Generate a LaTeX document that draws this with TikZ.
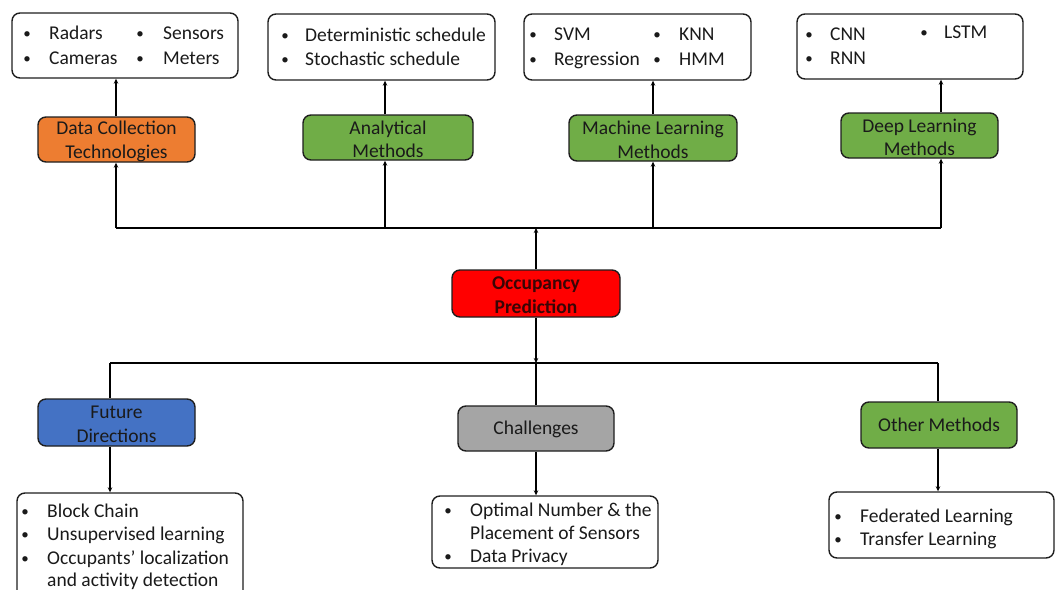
\documentclass[tikz,border=0pt]{standalone}
\usepackage{fontspec}
\setmainfont{Carlito}
\usetikzlibrary{arrows.meta}
\definecolor{orangeC}{HTML}{ED7D31}
\definecolor{greenC}{HTML}{70AD47}
\definecolor{blueC}{HTML}{4472C4}
\definecolor{grayC}{HTML}{A5A5A5}
\definecolor{redC}{HTML}{FF0000}
\definecolor{edgeC}{HTML}{1E1E1E}
\definecolor{txtC}{HTML}{1A1A1A}
\definecolor{occTxt}{HTML}{3A0505}
\begin{document}
\begin{tikzpicture}[x=1pt,y=-1pt,
  wbox/.style={draw=edgeC, line width=1.4pt, rounded corners=8pt, inner sep=0pt, fill=white},
  box/.style={wbox},
  lbl/.style={inner sep=0pt, font=\fontsize{19.5}{23.5}\selectfont, align=center, text=txtC},
  conn/.style={line width=1.4pt, draw=black},
  arr/.style={conn, -{Stealth[length=5pt,width=4.5pt]}},
  item/.style={inner sep=0pt, anchor=base west, font=\fontsize{19.5}{23.5}\selectfont, text=txtC},
  bul/.style={inner sep=0pt, anchor=base, font=\fontsize{15}{18}\selectfont, text=txtC, yshift=1pt}]
\useasboundingbox (0,0) rectangle (1060,589);
\clip (0,0) rectangle (1060,589);

% top white boxes
\node[wbox, minimum width=226pt, minimum height=65pt] (w1) at (125,45.5) {};
\node[wbox, minimum width=227pt, minimum height=66pt] (w2) at (381.5,47) {};
\node[wbox, minimum width=227pt, minimum height=66pt] (w3) at (637.5,47) {};
\node[wbox, minimum width=226pt, minimum height=65pt] (w4) at (910,46.5) {};

% method boxes
\node[box, fill=orangeC, minimum width=157pt, minimum height=45pt] (m1) at (116.5,139.5) {};
\node[box, fill=greenC, minimum width=170pt, minimum height=45pt] (m2) at (388,137.5) {};
\node[box, fill=greenC, minimum width=168pt, minimum height=46pt] (m3) at (653,138) {};
\node[box, fill=greenC, minimum width=157pt, minimum height=45pt] (m4) at (919.5,135.5) {};
\node[lbl, yshift=-2pt] (m1t) at (m1.center) {Data Collection\\Technologies};
\node[lbl, yshift=-2pt] (m2t) at (m2.center) {Analytical\\Methods};
\node[lbl, yshift=-2pt] (m3t) at (m3.center) {Machine Learning\\Methods};
\node[lbl, yshift=-2pt] (m4t) at (m4.center) {Deep Learning\\Methods};

% center
\node[box, fill=redC, minimum width=168pt, minimum height=47pt] (occ) at (536,293.5) {};
\node[lbl, yshift=-1.5pt, text=occTxt, font=\fontsize{19.5}{23.5}\selectfont\bfseries] (occt) at (occ.center) {Occupancy\\Prediction};

% lower category boxes
\node[box, fill=blueC, minimum width=157pt, minimum height=47pt] (f) at (116.5,422.5) {};
\node[box, fill=grayC, minimum width=156pt, minimum height=45pt] (c) at (536,428.5) {};
\node[box, fill=greenC, minimum width=156pt, minimum height=46pt] (o) at (939,425) {};
\node[lbl, yshift=-2pt] (ft) at (f.center) {Future\\Directions};
\node[lbl, yshift=-1pt] (ct) at (c.center) {Challenges};
\node[lbl] (ot) at (o.center) {Other Methods};

% lower white boxes
\node[wbox, minimum width=226pt, minimum height=117pt] (wf) at (130,551.5) {};
\node[wbox, minimum width=226pt, minimum height=72pt] (wc) at (545,532) {};
\node[wbox, minimum width=225pt, minimum height=66pt] (wo) at (941.5,525) {};

% bus coordinates
\coordinate (tb1) at (116,228);
\coordinate (tb2) at (385,228);
\coordinate (tb3) at (653,228);
\coordinate (tb4) at (941,228);
\coordinate (tbc) at (536,228);
\coordinate (lb1) at (110,363);
\coordinate (lb2) at (536,363);
\coordinate (lb3) at (938,363);

% top connectors
\draw[conn] (tb1) -- (tb4);
\draw[arr] (occ.north) -- (tbc);
\draw[arr] (tb1) -- (tb1 |- m1.south);
\draw[arr] (tb2) -- (tb2 |- m2.south);
\draw[arr] (tb3) -- (tb3 |- m3.south);
\draw[arr] (tb4) -- (tb4 |- m4.south);
\draw[arr] (tb1 |- m1.north) -- (tb1 |- w1.south);
\draw[arr] (tb2 |- m2.north) -- (tb2 |- w2.south);
\draw[arr] (tb3 |- m3.north) -- (tb3 |- w3.south);
\draw[arr] (tb4 |- m4.north) -- (tb4 |- w4.south);

% bottom connectors
\draw[arr] (occ.south) -- (lb2);
\draw[conn] (lb1) -- (lb3);
\draw[conn] (lb1) -- (lb1 |- f.north);
\draw[conn] (lb2) -- (lb2 |- c.north);
\draw[conn] (lb3) -- (lb3 |- o.north);
\draw[arr] (lb1 |- f.south) -- (lb1 |- wf.north);
\draw[arr] (lb2 |- c.south) -- (lb2 |- wc.north);
\draw[arr] (lb3 |- o.south) -- (lb3 |- wo.north);

% texts box 1
\node[bul] (b11) at (27,39) {•};   \node[item] (t11) at (49,39) {Radars};
\node[bul] (b12) at (27,64) {•};   \node[item] (t12) at (49,64) {Cameras};
\node[bul] (b13) at (140,39) {•};  \node[item] (t13) at (163,39) {Sensors};
\node[bul] (b14) at (140,64) {•};  \node[item] (t14) at (163,64) {Meters};
% box 2
\node[bul] (b21) at (285,41) {•};  \node[item] (t21) at (305,41) {Deterministic schedule};
\node[bul] (b22) at (285,65) {•};  \node[item] (t22) at (305,65) {Stochastic schedule};
% box 3
\node[bul] (b31) at (533,40) {•};  \node[item] (t31) at (554,40) {SVM};
\node[bul] (b32) at (533,65) {•};  \node[item] (t32) at (554,65) {Regression};
\node[bul] (b33) at (657,40) {•};  \node[item] (t33) at (679,40) {KNN};
\node[bul] (b34) at (657,65) {•};  \node[item] (t34) at (679,65) {HMM};
% box 4
\node[bul] (b41) at (809,40) {•};  \node[item] (t41) at (830,40) {CNN};
\node[bul] (b42) at (809,64) {•};  \node[item] (t42) at (830,64) {RNN};
\node[bul] (b43) at (924,38) {•};  \node[item] (t43) at (944,38) {LSTM};
% future box
\node[bul] (b51) at (25,517) {•};  \node[item] (t51) at (47,517) {Block Chain};
\node[bul] (b52) at (25,540) {•};  \node[item] (t52) at (47,540) {Unsupervised learning};
\node[bul] (b53) at (25,564) {•};  \node[item] (t53) at (47,564) {Occupants’ localization};
\node[item] (t54) at (47,586) {and activity detection};
% challenges box
\node[bul] (b61) at (448,516) {•};  \node[item] (t61) at (470,516) {Optimal Number \& the};
\node[item] (t62) at (470,539) {Placement of Sensors};
\node[bul] (b63) at (448,562) {•};  \node[item] (t63) at (470,562) {Data Privacy};
% other box
\node[bul] (b71) at (838,522) {•};  \node[item] (t71) at (860,522) {Federated Learning};
\node[bul] (b72) at (838,545) {•};  \node[item] (t72) at (860,545) {Transfer Learning};
\end{tikzpicture}
\end{document}
